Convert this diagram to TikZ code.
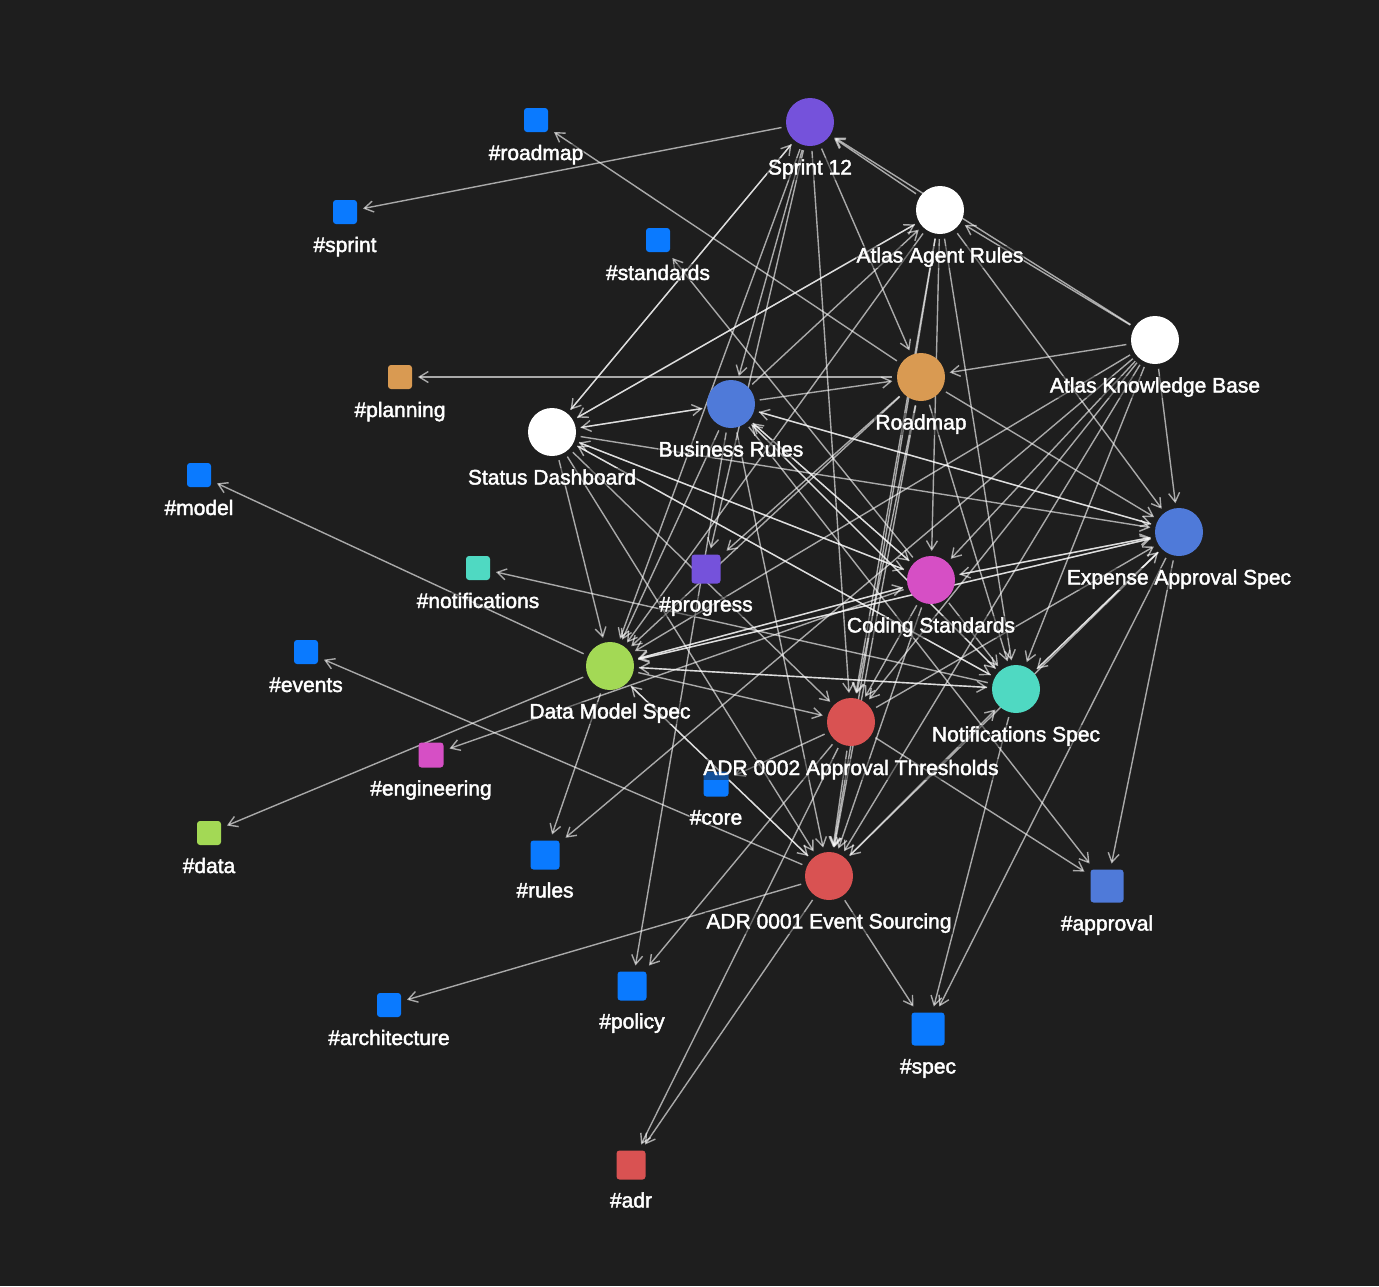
\documentclass[tikz,border=0pt]{standalone}
\usepackage{fontspec}
\setmainfont{Liberation Sans}[FakeBold=2]
\usetikzlibrary{arrows.meta,calc}
\definecolor{bg}{HTML}{1E1E1E}
\definecolor{cpurple}{HTML}{7552DB}
\definecolor{corange}{HTML}{D99A52}
\definecolor{cblue}{HTML}{4F7AD9}
\definecolor{cmagenta}{HTML}{D64FC5}
\definecolor{cgreen}{HTML}{A3D955}
\definecolor{cteal}{HTML}{4FD9C2}
\definecolor{cred}{HTML}{D95252}
\definecolor{ctag}{HTML}{0A7AFF}
\pgfdeclarelayer{bglayer}
\pgfdeclarelayer{edgelayer}
\pgfsetlayers{bglayer,edgelayer,main}
\begin{document}
\begin{tikzpicture}[x=1pt,y=-1pt,
  gnote/.style={circle,minimum size=48pt,inner sep=0pt,outer sep=5pt,draw=none},
  gtag/.style={rectangle,rounded corners=3pt,minimum size=#1,inner sep=0pt,outer sep=6pt,draw=none},
  gtag/.default=24pt,
  glabel/.style={anchor=base,text=white,font=\fontsize{21}{25}\selectfont,fill=bg,fill opacity=0.45,text opacity=1,inner sep=1pt},
  edge/.style={draw=white,draw opacity=0.62,line width=1.4pt,-{Straight Barb[length=9pt,width=11pt]}}
]
\useasboundingbox (0,0) rectangle (1379,1286);
\begin{pgfonlayer}{bglayer}
\fill[bg] (0,0) rectangle (1379,1286);
\end{pgfonlayer}

% notes
\node[gnote,fill=cpurple] (S12) at (810,122) {};
\node[gnote,fill=white] (AAR) at (940,210) {};
\node[gnote,fill=white] (AKB) at (1155,340) {};
\node[gnote,fill=corange] (RM) at (921,377) {};
\node[gnote,fill=cblue] (BR) at (731,404) {};
\node[gnote,fill=white] (SD) at (552,432) {};
\node[gnote,fill=cblue] (EAS) at (1179,532) {};
\node[gnote,fill=cmagenta] (CS) at (931,580) {};
\node[gnote,fill=cgreen] (DMS) at (610,666) {};
\node[gnote,fill=cteal] (NS) at (1016,689) {};
\node[gnote,fill=cred] (A2) at (851,722) {};
\node[gnote,fill=cred] (A1) at (829,876) {};

% tags
\node[gtag,fill=ctag] (troadmap) at (536,120) {};
\node[gtag,fill=ctag] (tsprint) at (345,212) {};
\node[gtag,fill=ctag] (tstandards) at (658,240) {};
\node[gtag,fill=corange] (tplanning) at (400,377) {};
\node[gtag,fill=ctag] (tmodel) at (199,475) {};
\node[gtag,fill=cteal] (tnotif) at (478,568) {};
\node[gtag=29pt,fill=cpurple] (tprogress) at (706,569) {};
\node[gtag,fill=ctag] (tevents) at (306,652) {};
\node[gtag=25pt,fill=cmagenta] (teng) at (431,755) {};
\node[gtag,fill=cgreen] (tdata) at (209,833) {};
\node[gtag=25pt,fill=ctag] (tcore) at (716,784) {};
\node[gtag=29pt,fill=ctag] (trules) at (545,855) {};
\node[gtag=33pt,fill=cblue] (tapproval) at (1107,886) {};
\node[gtag,fill=ctag] (tarch) at (389,1005) {};
\node[gtag=29pt,fill=ctag] (tpolicy) at (632,986) {};
\node[gtag=33pt,fill=ctag] (tspec) at (928,1029) {};
\node[gtag=29pt,fill=cred] (tadr) at (631,1165) {};

% edges
\begin{pgfonlayer}{edgelayer}
\foreach \a/\b in {S12/tsprint, RM/troadmap, CS/tstandards, RM/tplanning, DMS/tmodel,
  NS/tnotif, A1/tevents, CS/teng, DMS/tdata, DMS/trules, AKB/trules, A1/tarch,
  BR/tpolicy, A2/tpolicy, A1/tadr, A2/tadr, A1/tspec, NS/tspec, EAS/tspec,
  A2/tapproval, BR/tapproval, EAS/tapproval, S12/tprogress, RM/tprogress, A2/tcore,
  SD/S12, S12/SD, AAR/SD, SD/AAR, SD/BR, BR/SD, SD/DMS, SD/A1, SD/A2, SD/EAS,
  SD/CS, SD/NS, CS/SD, NS/SD,
  S12/RM, S12/BR, S12/A2, S12/DMS, AAR/S12, AKB/S12,
  BR/RM, BR/AAR, EAS/BR, BR/EAS, CS/BR, NS/BR, BR/DMS, BR/A1, BR/CS, BR/NS,
  AKB/RM, RM/DMS, RM/A2, RM/A1, RM/EAS, RM/NS,
  AKB/AAR, AAR/CS, AAR/NS, AAR/EAS, AAR/A2, AAR/A1, AAR/DMS,
  AKB/EAS, AKB/CS, AKB/NS, AKB/A2, AKB/A1, AKB/DMS,
  EAS/NS, NS/EAS, EAS/A1, EAS/DMS, CS/EAS, EAS/CS, A2/EAS, DMS/EAS,
  CS/DMS, DMS/CS, CS/NS, CS/A2, CS/A1,
  NS/DMS, DMS/NS, A1/NS,
  A2/A1, A1/DMS, DMS/A1, DMS/A2}
  \draw[edge] (\a) -- (\b);
\end{pgfonlayer}

% labels of notes
\node[glabel] (S12l) at ($(S12)+(0,52.5)$) {Sprint 12};
\node[glabel] (AARl) at ($(AAR)+(0,52.5)$) {Atlas Agent Rules};
\node[glabel] (AKBl) at ($(AKB)+(0,52.5)$) {Atlas Knowledge Base};
\node[glabel] (RMl) at ($(RM)+(0,52.5)$) {Roadmap};
\node[glabel] (BRl) at ($(BR)+(0,52.5)$) {Business Rules};
\node[glabel] (SDl) at ($(SD)+(0,52.5)$) {Status Dashboard};
\node[glabel] (EASl) at ($(EAS)+(0,52.5)$) {Expense Approval Spec};
\node[glabel] (CSl) at ($(CS)+(0,52.5)$) {Coding Standards};
\node[glabel] (DMSl) at ($(DMS)+(0,52.5)$) {Data Model Spec};
\node[glabel] (NSl) at ($(NS)+(0,52.5)$) {Notifications Spec};
\node[glabel] (A2l) at ($(A2)+(0,53)$) {ADR 0002 Approval Thresholds};
\node[glabel] (A1l) at ($(A1)+(0,52.5)$) {ADR 0001 Event Sourcing};

% labels of tags
\node[glabel] (troadmapl) at ($(troadmap)+(0,40)$) {\#roadmap};
\node[glabel] (tsprintl) at ($(tsprint)+(0,40)$) {\#sprint};
\node[glabel] (tstandardsl) at ($(tstandards)+(0,40)$) {\#standards};
\node[glabel] (tplanningl) at ($(tplanning)+(0,40)$) {\#planning};
\node[glabel] (tmodell) at ($(tmodel)+(0,40)$) {\#model};
\node[glabel] (tnotifl) at ($(tnotif)+(0,40)$) {\#notifications};
\node[glabel] (tprogressl) at ($(tprogress)+(0,42.5)$) {\#progress};
\node[glabel] (teventsl) at ($(tevents)+(0,40)$) {\#events};
\node[glabel] (tengl) at ($(teng)+(0,40.5)$) {\#engineering};
\node[glabel] (tdatal) at ($(tdata)+(0,40)$) {\#data};
\node[glabel] (tcorel) at ($(tcore)+(0,40.5)$) {\#core};
\node[glabel] (trulesl) at ($(trules)+(0,42.5)$) {\#rules};
\node[glabel] (tapprovall) at ($(tapproval)+(0,44.5)$) {\#approval};
\node[glabel] (tarchl) at ($(tarch)+(0,40)$) {\#architecture};
\node[glabel] (tpolicyl) at ($(tpolicy)+(0,42.5)$) {\#policy};
\node[glabel] (tspecl) at ($(tspec)+(0,44.5)$) {\#spec};
\node[glabel] (tadrl) at ($(tadr)+(0,42.5)$) {\#adr};
\end{tikzpicture}
\end{document}
